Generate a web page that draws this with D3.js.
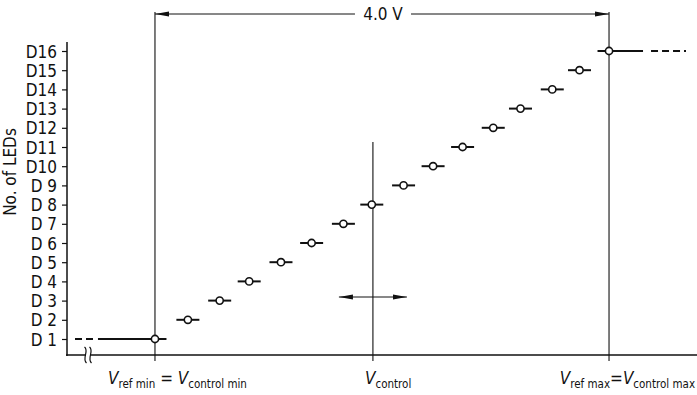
<!DOCTYPE html>
<html>
<head>
<meta charset="utf-8">
<script src="https://cdn.jsdelivr.net/npm/d3@7"></script>
<style>
html,body{margin:0;padding:0;background:#fff;}
svg{display:block;}
text{font-family:"DejaVu Sans Condensed","Liberation Sans Narrow","DejaVu Sans",sans-serif;fill:#111;}
</style>
</head>
<body>
<svg id="chart" width="697" height="395"></svg>
<script>
// LED number (1..16) and control voltage (V, relative to Vref min) at which each LED step is reached
const leds = [1,2,3,4,5,6,7,8,9,10,11,12,13,14,15,16];
const voltages = [0,0.29,0.57,0.83,1.11,1.38,1.66,1.91,2.19,2.45,2.71,2.98,3.22,3.50,3.74,4.0];
const tickLabels = ["D 1","D 2","D 3","D 4","D 5","D 6","D 7","D 8","D 9","D10","D11","D12","D13","D14","D15","D16"];
const vControl = 1.92;
const spanLabel = "4.0 V";

const svg = d3.select("#chart");
const x = d3.scaleLinear().domain([-0.775, 4.775]).range([67, 697]);
const y = d3.scaleLinear().domain([1, 16]).range([339, 51]);
const axisY = 355;
const ink = "#111";

// y axis
const yAxis = d3.axisLeft(y).tickValues(leds).tickSize(5).tickPadding(5).tickFormat((d,i)=>tickLabels[i]);
const gy = svg.append("g").attr("transform","translate(67,0)").call(yAxis);
gy.select(".domain").remove();
gy.selectAll(".tick line").attr("stroke",ink).attr("stroke-width",1.2);
gy.selectAll(".tick text").attr("font-size",17).attr("fill",ink).attr("dy","0.36em");
svg.append("line").attr("x1",67).attr("x2",67).attr("y1",42).attr("y2",axisY+1).attr("stroke",ink).attr("stroke-width",1.5);

// x axis line
svg.append("line").attr("x1",66).attr("x2",697).attr("y1",axisY).attr("y2",axisY).attr("stroke",ink).attr("stroke-width",1.5);
// axis break mark
const bx = 88;
svg.append("rect").attr("x",bx-2).attr("y",axisY-2).attr("width",5).attr("height",4).attr("fill","#fff");
[-2.5,2.5].forEach(o=>{
  svg.append("path").attr("d",`M${bx+o-1},${axisY-8} C${bx+o+4},${axisY-4} ${bx+o-4},${axisY+3} ${bx+o+1},${axisY+8}`)
    .attr("fill","none").attr("stroke",ink).attr("stroke-width",1.2);
});

// y axis title
svg.append("text").attr("transform","translate(16,172) rotate(-90)").attr("text-anchor","middle")
  .attr("font-size",17).text("No. of LEDs");

// vertical reference lines
const vmin = voltages[0], vmax = voltages[voltages.length-1];
svg.append("line").attr("x1",x(vmin)).attr("x2",x(vmin)).attr("y1",12).attr("y2",axisY+6).attr("stroke",ink).attr("stroke-width",1.1);
svg.append("line").attr("x1",x(vmax)).attr("x2",x(vmax)).attr("y1",12).attr("y2",axisY+6).attr("stroke",ink).attr("stroke-width",1.1);
svg.append("line").attr("x1",x(vControl)).attr("x2",x(vControl)).attr("y1",142).attr("y2",axisY+6).attr("stroke",ink).attr("stroke-width",1.1);

// arrowheads
const defs = svg.append("defs");
defs.append("marker").attr("id","ah2").attr("viewBox","0 0 14 6").attr("refX",14).attr("refY",3)
  .attr("markerWidth",14).attr("markerHeight",6).attr("markerUnits","userSpaceOnUse").attr("orient","auto-start-reverse")
  .append("path").attr("d","M0,0.6 L14,3 L0,5.4 Z").attr("fill",ink);

// top span arrow
const topY = 14;
svg.append("line").attr("x1",x(vmin)).attr("x2",x(vmin)+200).attr("y1",topY).attr("y2",topY)
  .attr("stroke",ink).attr("stroke-width",1).attr("marker-start","url(#ah2)");
svg.append("line").attr("x1",x(vmax)-198).attr("x2",x(vmax)).attr("y1",topY).attr("y2",topY)
  .attr("stroke",ink).attr("stroke-width",1).attr("marker-end","url(#ah2)");
svg.append("text").attr("x",(x(vmin)+x(vmax))/2+1).attr("y",topY).attr("dy","0.36em").attr("text-anchor","middle")
  .attr("font-size",17).text(spanLabel);

// double arrow at control voltage
const arY = 297;
svg.append("line").attr("x1",x(vControl)-34).attr("x2",x(vControl)+34).attr("y1",arY).attr("y2",arY)
  .attr("stroke",ink).attr("stroke-width",1).attr("marker-start","url(#ah2)").attr("marker-end","url(#ah2)");

// step segments
const half = 11.5;
svg.append("g").selectAll("line").data(leds).join("line")
  .attr("x1",(d,i)=> i===0 ? x(vmin)-57 : x(voltages[i])-half)
  .attr("x2",(d,i)=> i===leds.length-1 ? x(vmax)+34 : x(voltages[i])+half)
  .attr("y1",d=>y(d)).attr("y2",d=>y(d)).attr("stroke",ink).attr("stroke-width",2);
// dashed extensions
svg.append("line").attr("x1",75).attr("x2",x(vmin)-58).attr("y1",y(1)).attr("y2",y(1))
  .attr("stroke",ink).attr("stroke-width",2).attr("stroke-dasharray","7,4");
svg.append("line").attr("x1",x(vmax)+42).attr("x2",686).attr("y1",y(16)).attr("y2",y(16))
  .attr("stroke",ink).attr("stroke-width",2).attr("stroke-dasharray","7,4");

// points
svg.append("g").selectAll("circle").data(leds).join("circle")
  .attr("cx",(d,i)=>x(voltages[i])).attr("cy",d=>y(d)).attr("r",3.6)
  .attr("fill","#fff").attr("stroke",ink).attr("stroke-width",1.6);

// bottom labels
function vlabel(cx, anchor, parts){
  const t = svg.append("text").attr("x",cx).attr("y",384).attr("text-anchor",anchor).attr("font-size",17);
  parts.forEach(p=>{
    const ts = t.append("tspan").text(p.t);
    if(p.i) ts.attr("font-style","italic");
    if(p.sub) ts.attr("font-size",11.5).attr("dy",p.dy);
    else if(p.dy) ts.attr("dy",p.dy);
  });
}
vlabel(108,"start",[{t:"V",i:1},{t:"ref min",sub:1,dy:4},{t:" = ",dy:-4},{t:"V",i:1},{t:"control min",sub:1,dy:4}]);
vlabel(365,"start",[{t:"V",i:1},{t:"control",sub:1,dy:4}]);
vlabel(695,"end",[{t:"V",i:1},{t:"ref max",sub:1,dy:4},{t:"=",dy:-4},{t:"V",i:1},{t:"control max",sub:1,dy:4}]);
</script>
</body>
</html>
